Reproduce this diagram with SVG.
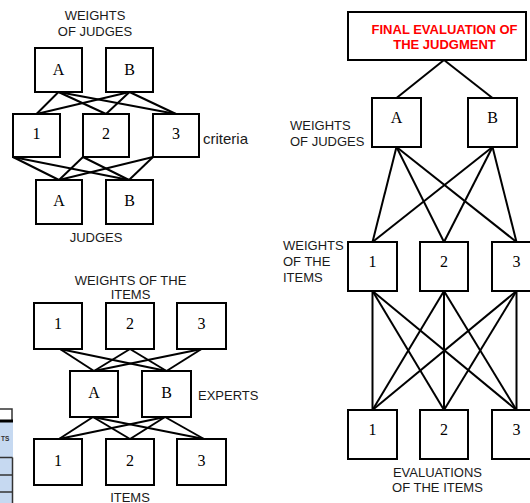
<svg xmlns="http://www.w3.org/2000/svg" width="530" height="503" viewBox="0 0 530 503">
<style>
.box{fill:#fff;stroke:#000;stroke-width:2}
.num{font-family:"Liberation Serif","Times New Roman",serif;font-size:16px;text-anchor:middle;fill:#000}
.lbl{font-family:"Liberation Sans",Arial,sans-serif;font-size:13px;fill:#1a1a1a}
.big{font-size:15px}
.mid{text-anchor:middle}
.con line{stroke:#000;stroke-width:2}
.title{font-family:"Liberation Sans",Arial,sans-serif;font-size:13px;font-weight:bold;fill:#ff0000;text-anchor:middle}
</style>
<rect width="530" height="503" fill="#fff"/>

<!-- table fragment on left edge -->
<g id="table-fragment">
<rect x="-2" y="409" width="14" height="12" fill="#fff" stroke="#333" stroke-width="1.5"/>
<rect x="-2" y="421" width="15" height="84" fill="#c6d9f1"/>
<line x1="-2" y1="421" x2="13" y2="421" stroke="#000" stroke-width="3"/>
<text x="1" y="441" font-family="Liberation Sans,Arial,sans-serif" font-size="6.5" font-weight="bold" fill="#333">TS</text>
<g stroke="#333" stroke-width="1.5">
<line x1="-2" y1="457.5" x2="12.5" y2="457.5"/>
<line x1="-2" y1="475" x2="12.5" y2="475"/>
<line x1="-2" y1="492" x2="12.5" y2="492"/>
<line x1="12.5" y1="457.5" x2="12.5" y2="503"/>
</g>
</g>

<g id="connectors" class="con">
<!-- top-left diagram -->
<line x1="58.5" y1="92" x2="36.5" y2="114"/>
<line x1="58.5" y1="92" x2="106" y2="114"/>
<line x1="58.5" y1="92" x2="176" y2="114"/>
<line x1="129.5" y1="92" x2="36.5" y2="114"/>
<line x1="129.5" y1="92" x2="106" y2="114"/>
<line x1="129.5" y1="92" x2="176" y2="114"/>
<line x1="13" y1="157" x2="59" y2="180"/>
<line x1="13" y1="157" x2="129" y2="180"/>
<line x1="83" y1="157" x2="59" y2="180"/>
<line x1="83" y1="157" x2="129" y2="180"/>
<line x1="153" y1="157" x2="59" y2="180"/>
<line x1="153" y1="157" x2="129" y2="180"/>
<!-- bottom-left diagram -->
<line x1="60" y1="349" x2="94" y2="371"/>
<line x1="60" y1="349" x2="166.5" y2="371"/>
<line x1="130" y1="349" x2="94" y2="371"/>
<line x1="130" y1="349" x2="166.5" y2="371"/>
<line x1="201.5" y1="349" x2="94" y2="371"/>
<line x1="201.5" y1="349" x2="166.5" y2="371"/>
<line x1="93" y1="417" x2="59" y2="439"/>
<line x1="93" y1="417" x2="130" y2="439"/>
<line x1="93" y1="417" x2="204" y2="439"/>
<line x1="165" y1="417" x2="59" y2="439"/>
<line x1="165" y1="417" x2="130" y2="439"/>
<line x1="165" y1="417" x2="204" y2="439"/>
<!-- right diagram -->
<line x1="444" y1="60" x2="396.5" y2="98"/>
<line x1="444" y1="60" x2="492.5" y2="98"/>
<line x1="396.5" y1="147" x2="372.5" y2="242"/>
<line x1="396.5" y1="147" x2="444" y2="242"/>
<line x1="396.5" y1="147" x2="516.5" y2="242"/>
<line x1="492.5" y1="147" x2="372.5" y2="242"/>
<line x1="492.5" y1="147" x2="444" y2="242"/>
<line x1="492.5" y1="147" x2="516.5" y2="242"/>
<line x1="372.5" y1="291" x2="372.5" y2="410"/>
<line x1="372.5" y1="291" x2="444" y2="410"/>
<line x1="372.5" y1="291" x2="516.5" y2="410"/>
<line x1="444" y1="291" x2="372.5" y2="410"/>
<line x1="444" y1="291" x2="444" y2="410"/>
<line x1="444" y1="291" x2="516.5" y2="410"/>
<line x1="516.5" y1="291" x2="372.5" y2="410"/>
<line x1="516.5" y1="291" x2="444" y2="410"/>
<line x1="516.5" y1="291" x2="516.5" y2="410"/>
</g>

<!-- top-left diagram -->
<text class="lbl mid" x="95" y="20">WEIGHTS</text>
<text class="lbl mid" x="95" y="36">OF JUDGES</text>
<g id="tl-wA"><rect class="box" x="35" y="48" width="47" height="44"/><text class="num" x="58.5" y="75">A</text></g>
<g id="tl-wB"><rect class="box" x="106" y="48" width="47" height="44"/><text class="num" x="129.5" y="75">B</text></g>
<g id="tl-c1"><rect class="box" x="13" y="114" width="47" height="43"/><text class="num" x="36.5" y="139">1</text></g>
<g id="tl-c2"><rect class="box" x="83" y="114" width="46" height="43"/><text class="num" x="106" y="139">2</text></g>
<g id="tl-c3"><rect class="box" x="153" y="114" width="46" height="43"/><text class="num" x="176" y="139">3</text></g>
<text class="lbl big" x="203" y="144">criteria</text>
<g id="tl-jA"><rect class="box" x="36" y="180" width="46" height="44"/><text class="num" x="59" y="206">A</text></g>
<g id="tl-jB"><rect class="box" x="106" y="180" width="47" height="44"/><text class="num" x="129.5" y="206">B</text></g>
<text class="lbl mid" x="96" y="242">JUDGES</text>

<!-- bottom-left diagram -->
<text class="lbl mid" x="130.5" y="285">WEIGHTS OF THE</text>
<text class="lbl mid" x="130.5" y="299">ITEMS</text>
<g id="bl-w1"><rect class="box" x="34" y="303" width="48" height="46"/><text class="num" x="58" y="329">1</text></g>
<g id="bl-w2"><rect class="box" x="106" y="303" width="48" height="46"/><text class="num" x="130" y="329">2</text></g>
<g id="bl-w3"><rect class="box" x="177" y="303" width="49" height="46"/><text class="num" x="201.5" y="329">3</text></g>
<g id="bl-eA"><rect class="box" x="70" y="371" width="48" height="46"/><text class="num" x="94" y="398">A</text></g>
<g id="bl-eB"><rect class="box" x="142" y="371" width="49" height="46"/><text class="num" x="166.5" y="398">B</text></g>
<text class="lbl" x="198" y="400">EXPERTS</text>
<g id="bl-i1"><rect class="box" x="34" y="439" width="48" height="46"/><text class="num" x="58" y="466">1</text></g>
<g id="bl-i2"><rect class="box" x="106" y="439" width="48" height="46"/><text class="num" x="130" y="466">2</text></g>
<g id="bl-i3"><rect class="box" x="177" y="439" width="49" height="46"/><text class="num" x="201.5" y="466">3</text></g>
<text class="lbl mid" x="130" y="502">ITEMS</text>

<!-- right diagram -->
<g id="final"><rect class="box" x="348" y="12" width="178" height="48"/>
<text class="title" x="444.5" y="34">FINAL EVALUATION OF</text>
<text class="title" x="444.5" y="49">THE JUDGMENT</text></g>
<text class="lbl" x="290" y="130">WEIGHTS</text>
<text class="lbl" x="290" y="146">OF JUDGES</text>
<g id="r-wA"><rect class="box" x="372" y="98" width="49" height="49"/><text class="num" x="396.5" y="123">A</text></g>
<g id="r-wB"><rect class="box" x="468" y="98" width="49" height="49"/><text class="num" x="492.5" y="123">B</text></g>
<text class="lbl" x="283" y="250">WEIGHTS</text>
<text class="lbl" x="283" y="266">OF THE</text>
<text class="lbl" x="283" y="282">ITEMS</text>
<g id="r-w1"><rect class="box" x="348" y="242" width="49" height="49"/><text class="num" x="372.5" y="267">1</text></g>
<g id="r-w2"><rect class="box" x="420" y="242" width="48" height="49"/><text class="num" x="444" y="267">2</text></g>
<g id="r-w3"><rect class="box" x="492" y="242" width="49" height="49"/><text class="num" x="516.5" y="267">3</text></g>
<g id="r-e1"><rect class="box" x="348" y="410" width="49" height="49"/><text class="num" x="372.5" y="435">1</text></g>
<g id="r-e2"><rect class="box" x="420" y="410" width="48" height="49"/><text class="num" x="444" y="435">2</text></g>
<g id="r-e3"><rect class="box" x="492" y="410" width="49" height="49"/><text class="num" x="516.5" y="435">3</text></g>
<text class="lbl mid" x="437.5" y="477">EVALUATIONS</text>
<text class="lbl mid" x="437.5" y="492">OF THE ITEMS</text>
</svg>
